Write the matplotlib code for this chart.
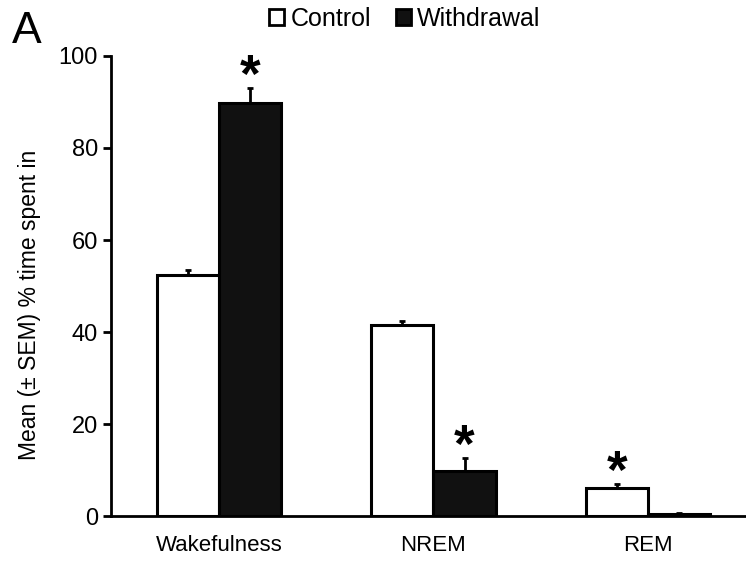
import matplotlib
matplotlib.use('Agg')
import matplotlib.pyplot as plt
import numpy as np
from matplotlib.patches import Patch

plt.rcParams['font.family'] = ['Liberation Sans', 'DejaVu Sans']

states = ['Wakefulness', 'NREM', 'REM']
control = [52.5, 41.5, 6.1]
control_sem = [1.0, 1.0, 0.8]
withdrawal = [89.8, 9.7, 0.4]
withdrawal_sem = [3.2, 2.9, 0.2]
# which bar gets the star: 'c' control, 'w' withdrawal
star_on = ['w', 'w', 'c']

x = np.arange(len(states))
w = 0.29

fig = plt.figure(figsize=(7.46, 5.65), dpi=100)
ax = fig.add_axes([0.1488, 0.0867, 0.8512, 0.8142])

ax.bar(x - w/2, control, w, color='white', edgecolor='black', linewidth=2.2,
       yerr=[np.zeros(3), control_sem], error_kw=dict(ecolor='black', elinewidth=2, capsize=2.5, capthick=2))
ax.bar(x + w/2, withdrawal, w, color='#111111', edgecolor='black', linewidth=2.2,
       yerr=[np.zeros(3), withdrawal_sem], error_kw=dict(ecolor='black', elinewidth=2, capsize=2.5, capthick=2))

for i in range(len(states)):
    if star_on[i] == 'w':
        xs, top = x[i] + w/2, withdrawal[i] + withdrawal_sem[i]
    else:
        xs, top = x[i] - w/2, control[i] + control_sem[i]
    ax.annotate('*', (xs, top), xytext=(0, -3), textcoords='offset points',
                ha='center', va='baseline', fontsize=38, fontweight='bold')

ax.set_xlim(-0.503, 2.457)
ax.set_ylim(0, 100)
ax.set_yticks([0, 20, 40, 60, 80, 100])
ax.set_xticks(x)
ax.set_xticklabels(states)
ax.tick_params(axis='x', length=0, labelsize=16, pad=14)
ax.tick_params(axis='y', direction='out', length=6, width=2, labelsize=17)
ax.spines['top'].set_visible(False)
ax.spines['right'].set_visible(False)
ax.spines['left'].set_linewidth(2)
ax.spines['bottom'].set_linewidth(2)
ax.set_ylabel('Mean (± SEM) % time spent in', fontsize=16.5)
ax.yaxis.set_label_coords(-0.11, 0.46)

handles = [Patch(facecolor='white', edgecolor='black', linewidth=2, label='Control'),
           Patch(facecolor='#111111', edgecolor='black', linewidth=2, label='Withdrawal')]
fig.legend(handles=handles, loc='center', bbox_to_anchor=(0.543, 0.966), ncol=2, frameon=False,
           fontsize=18, handlelength=0.6, handleheight=0.6, handletextpad=0.25, columnspacing=1.0)

fig.text(0.016, 0.945, 'A', fontsize=32, ha='left', va='center')

fig.savefig('out.png', dpi=100)
